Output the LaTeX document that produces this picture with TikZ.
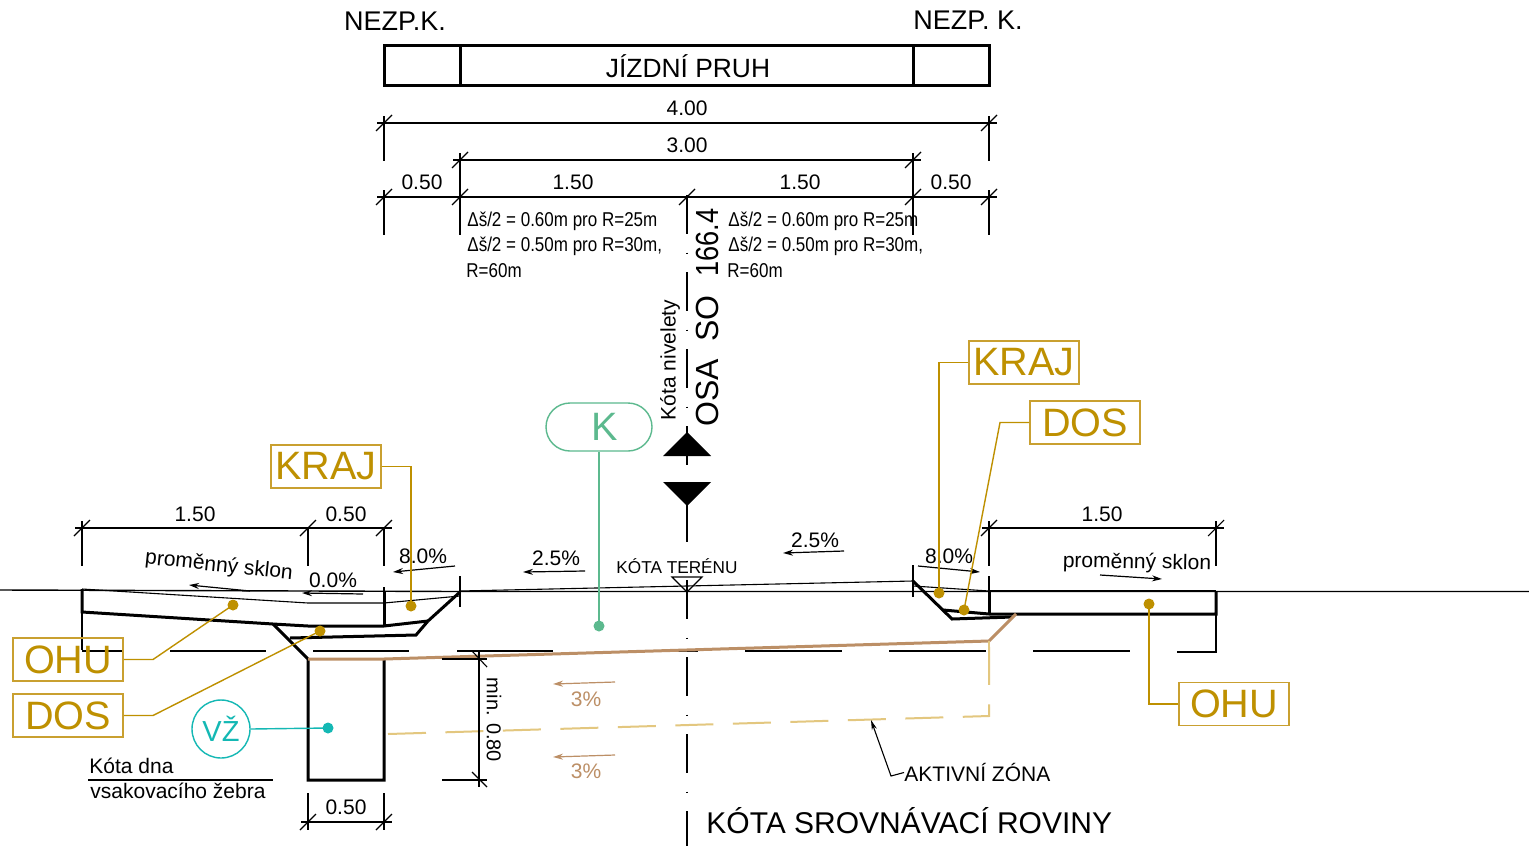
\documentclass[tikz,border=0pt]{standalone}
\usepackage{fontspec}
\setmainfont{Liberation Sans}
\newfontfamily\narrowfont[FakeStretch=0.85]{Liberation Sans}
\usetikzlibrary{arrows.meta}
\definecolor{gold}{HTML}{BE9000}
\definecolor{goldbox}{HTML}{C9A030}
\definecolor{teal1}{HTML}{14B8B4}
\definecolor{green1}{HTML}{5CB98E}
\definecolor{brown1}{HTML}{BC8F66}
\definecolor{sand}{HTML}{E3C77F}
\newcommand{\fsz}[1]{\fontsize{#1}{#1}\selectfont}
\newcommand{\tg}[1]{\raisebox{-0.8pt}{#1}}
\tikzset{
 thinl/.style={draw=black,line width=0.55pt},
 thickl/.style={draw=black,line width=1.5pt,line join=miter},
 medl/.style={draw=black,line width=0.8pt},
 dimtext/.style={font=\fsz{10.5},inner sep=0pt,text=black},
 slope/.style={draw=black,line width=0.6pt,-{Stealth[length=5pt,width=3pt]}},
 slopeb/.style={draw=brown1,line width=0.6pt,-{Stealth[length=5pt,width=3pt]}},
 tag/.style={draw=goldbox,line width=0.8pt,text=gold,font=\fsz{19.8},minimum width=55pt,minimum height=21.5pt,inner sep=0pt},
 lead/.style={draw=gold,line width=0.7pt},
 golddot/.style={circle,fill=gold,inner sep=0pt,minimum size=5.5pt},
 note/.style={font=\narrowfont\fsz{10},inner sep=0pt,anchor=west,text=black},
}
\begin{document}
\begin{tikzpicture}[x=0.5pt,y=-0.5pt]
\useasboundingbox (0,0) rectangle (1529,846);
\fill[white] (0,0) rectangle (1529,846);

% lane box
\draw[thickl] (384,45) rectangle (989,85);
\draw[thickl] (460,45) -- (460,85);
\draw[thickl] (913,45) -- (913,85);
\node[font=\fsz{13.2},inner sep=0pt] (lane) at (688,66) {JÍZDNÍ PRUH};
\node[font=\fsz{13.5},inner sep=0pt] (nl) at (395,21) {NEZP.K.};
\node[font=\fsz{13.5},inner sep=0pt] (nr) at (968,20) {NEZP. K.};

% centre line
\draw[line width=1.2pt,dash pattern=on 19.25pt off 9.5pt on .6pt off 9.15pt] (687,195) -- (687,846);

% top dimensions
\draw[medl] (377,123) -- (997,123);
\draw[medl] (453,160) -- (921,160);
\draw[medl] (377,197) -- (997,197);
\draw[thinl] (384,116) -- (384,161);
\draw[thinl] (989,116) -- (989,161);
\draw[thinl] (460,153) -- (460,235);
\draw[thinl] (913,153) -- (913,235);
\draw[thinl] (384,190) -- (384,235);
\draw[thinl] (989,190) -- (989,235);
\foreach \a/\b in {384/123,989/123,460/160,913/160,384/197,460/197,687/197,913/197,989/197,82/528,308/528,384/528,989/528,1216/528,308/822,384/822}
  \draw[thinl] (\a-8,\b+8) -- (\a+8,\b-8);
\node[dimtext] (d400) at (687,108) {4.00};
\node[dimtext] (d300) at (687,145) {3.00};
\node[dimtext] (d050a) at (422,182) {0.50};
\node[dimtext] (d150a) at (573,182) {1.50};
\node[dimtext] (d150b) at (800,182) {1.50};
\node[dimtext] (d050b) at (951,182) {0.50};

% notes
\node[note] (n1) at (467,221) {Δš/2 = 0.60m pro R=25m};
\node[note] (n2) at (467,246.5) {Δš/2 = 0.50m pro R=30m,};
\node[note] (n3) at (466,271) {R=60m};
\node[note] (n4) at (728,221) {Δš/2 = 0.60m pro R=25m};
\node[note] (n5) at (728,246.5) {Δš/2 = 0.50m pro R=30m,};
\node[note] (n6) at (727,271) {R=60m};

% axis texts
\node[rotate=90,font=\fsz{16},inner sep=0pt] (osa) at (707,317.5) {OSA\hspace{8.5pt}SO\hspace{9.5pt}{\narrowfont 166.4}};
\node[rotate=90,font=\fsz{10.5},inner sep=0pt] (niv) at (670,360) {Kóta nivelety};
\fill[black] (687,432) -- (711,456) -- (663,456) -- cycle;
\fill[black] (663,482) -- (711,482) -- (687,506) -- cycle;

% terrain and surface
\draw[draw=black,line width=0.7pt] (0,590) -- (460,591.5) -- (1529,591.5);
\draw[thinl] (460,591) -- (913,581);
\draw[thinl] (82,589) -- (308,603) -- (384,603) -- (460,596);
\draw[thinl] (913,586) -- (989,591);

% left structure
\draw[thickl] (82,589) -- (82,612) -- (273,624) -- (308,626) -- (384,626) -- (428,621);
\draw[thickl] (428,621) -- (460,592);
\draw[thickl] (384,591) -- (384,626);
\draw[thickl] (273,624) -- (308,659) -- (308,780) -- (384,780) -- (384,659);
\draw[thickl] (290,638) -- (416,635) -- (428,621);
\draw[thinl] (82,612) -- (82,650);
\draw[thinl] (384,587) -- (384,592);
\draw[thinl] (460,576) -- (460,607);

% right structure
\draw[thickl] (913,581) -- (952,619) -- (1012,617);
\draw[thickl] (943,610) -- (989,614) -- (1216,614) -- (1216,591);
\draw[thickl] (989,591) -- (989,614);
\draw[line width=1pt] (989,591) -- (1216,591);
\draw[thinl] (913,565) -- (913,597);
\draw[thinl] (989,521) -- (989,566);
\draw[thinl] (989,576) -- (989,591);
\draw[thinl] (1216,521) -- (1216,566);
\draw[medl] (1216,614) -- (1216,652) -- (1177,652);
\draw[medl] (982,528) -- (1224,528);

% subgrade dashes
\foreach \a/\b in {82/122,170/266,313/409,457/553,650/698,745/842,889/986,1033/1130}
  \draw[medl] (\a,651) -- (\b,651);

% brown line
\draw[draw=brown1,line width=1.5pt] (308,659) -- (384,659) -- (989,641) -- (1016,614);
% active zone
\draw[draw=sand,line width=1pt,dash pattern=on 19pt off 9.75pt] (388,734) -- (989,716) -- (989,646);
\draw[draw=sand,line width=1pt] (989,650) -- (989,641);

% left dimensions
\draw[medl] (75,528) -- (392,528);
\draw[thinl] (82,521) -- (82,566);
\draw[thinl] (308,528) -- (308,566);
\draw[thinl] (384,528) -- (384,566);
\node[dimtext] (l150) at (195,514) {1.50};
\node[dimtext] (l050) at (346,514) {0.50};
\node[dimtext] (r150) at (1102,514) {1.50};
\draw[medl] (301,822) -- (392,822);
\draw[thinl] (308,793) -- (308,830);
\draw[thinl] (384,793) -- (384,830);
\node[dimtext] (b050) at (346,807) {0.50};

% min 0.80
\draw[thinl] (479,651) -- (479,787);
\draw[medl] (442,659) -- (487,659);
\draw[medl] (442,780) -- (487,780);
\draw[thinl] (472,651) -- (487,667);
\draw[thinl] (472,772) -- (487,787);
\node[dimtext,rotate=-90,font=\fsz{10}] (min) at (494,720) {min. 0.80};

% bottom-left label
\node[font=\fsz{10.5},inner sep=0pt,anchor=west] (kd) at (89,766) {Kóta dna};
\node[font=\fsz{10.5},inner sep=0pt,anchor=west] (vz) at (90,791) {vsakovacího žebra};
\draw[thinl] (88,780) -- (273,780);

% slopes
\node[dimtext] (s1) at (556,558) {2.5\%};
\draw[slope] (585,571) -- (523,572);
\node[dimtext] (s2) at (815,540) {2.5\%};
\draw[slope] (844,551) -- (783,553);
\node[dimtext] (s3) at (423,556) {8.0\%};
\draw[slope] (455,566) -- (393,572);
\node[dimtext] (s4) at (949,556) {8.0\%};
\draw[slope] (918,566) -- (980,572);
\node[dimtext] (s5) at (333,580) {0.0\%};
\draw[slope] (363,594) -- (302,593);
\node[dimtext,rotate=-6] (s6) at (219,566) {proměnný sklon};
\draw[slope] (250,591) -- (189,585);
\node[dimtext,rotate=-1] (s7) at (1137,563) {proměnný sklon};
\draw[slope] (1100,575) -- (1162,579);
\node[dimtext,text=brown1] (s8) at (586,699) {3\%};
\draw[slopeb] (615,682) -- (553,684);
\node[dimtext,text=brown1] (s9) at (586,771) {3\%};
\draw[slopeb] (615,755) -- (553,757);

% terrain mark
\node[font=\fsz{8.6},inner sep=0pt] (kt) at (677,566.5) {KÓTA TERÉNU};
\draw[thinl] (672,577) -- (702,577) -- (687,592) -- cycle;

% active zone label
\node[font=\fsz{10.5},inner sep=0pt,anchor=west] (az) at (904,772.5) {AKTIVNÍ ZÓNA};
\coordinate (aztip) at (871,720);
\draw[thinl,{Stealth[length=5pt,width=2.6pt]}-] (aztip) -- (891,776) -- (az.west);
\node[font=\fsz{15},inner sep=0pt,anchor=west] (ksr) at (706,821) {KÓTA SROVNÁVACÍ ROVINY};

% leaders
\node[tag] (ohuL) at (68,659.5) {\tg{OHU}};
\node[tag] (dosL) at (68,715.5) {\tg{DOS}};
\node[tag] (krajL) at (326,466.5) {\tg{KRAJ}};
\node[tag] (krajR) at (1024,362.5) {\tg{KRAJ}};
\node[tag] (dosR) at (1085,422.5) {\tg{DOS}};
\node[tag] (ohuR) at (1234,704) {\tg{OHU}};
\node[golddot] (p1) at (233,605) {};
\node[golddot] (p2) at (320,631) {};
\node[golddot] (p3) at (411,606) {};
\node[golddot] (p4) at (939,593) {};
\node[golddot] (p5) at (964,610) {};
\node[golddot] (p6) at (1149,604) {};
\draw[lead] (ohuL.east) -- (153,659.5) -- (p1.center);
\draw[lead] (dosL.east) -- (153,715.5) -- (p2.center);
\draw[lead] (krajL.east) -- (411,466.5) -- (p3.center);
\draw[lead] (krajR.west) -- (939,362.5) -- (p4.center);
\draw[lead] (dosR.west) -- (1000,422.5) -- (p5.center);
\draw[lead] (ohuR.west) -- (1149,704) -- (p6.center);

% K
\node[draw=green1,line width=0.7pt,rounded corners=12pt,minimum width=53pt,minimum height=24pt,inner sep=0pt,text=green1,font=\fsz{19.8}] (k) at (599,427) {\hspace{6pt}K};
\node[circle,fill=green1,inner sep=0pt,minimum size=5.5pt] (kd2) at (599,626) {};
\draw[draw=green1,line width=0.8pt] (k.south) -- (kd2.center);

% VZ
\node[circle,draw=teal1,line width=0.7pt,minimum size=29pt,inner sep=0pt,text=teal1,font=\fsz{14.5}] (vzc) at (221,729) {VŽ};
\node[circle,fill=teal1,inner sep=0pt,minimum size=5.5pt] (vzd) at (328,728) {};
\draw[draw=teal1,line width=0.7pt] (vzc.east) -- (vzd.center);
\end{tikzpicture}
\end{document}
